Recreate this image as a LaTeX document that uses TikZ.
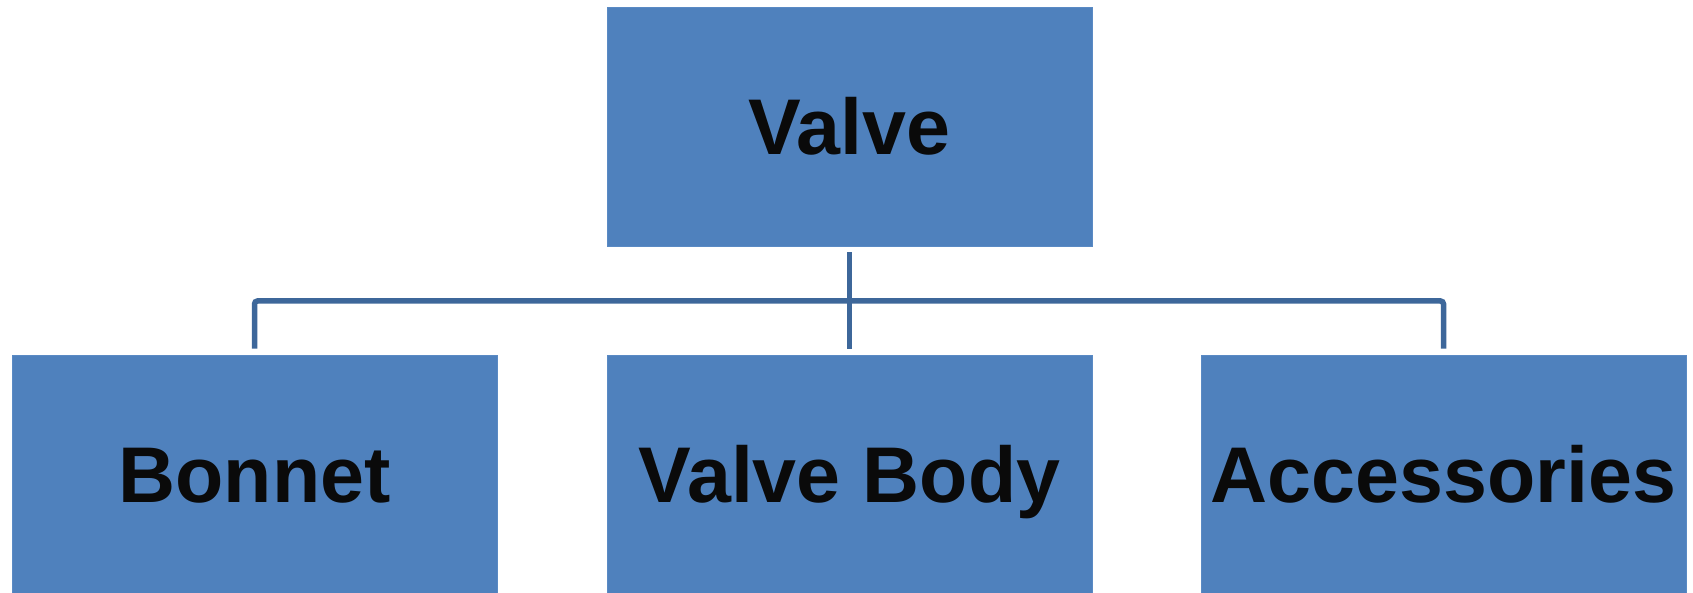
\documentclass[tikz,border=0pt]{standalone}
\usepackage{fontspec}
\setmainfont{Liberation Sans}
\definecolor{boxfill}{HTML}{4F81BD}
\definecolor{boxedge}{HTML}{5A8AC4}
\definecolor{linkblue}{HTML}{3D679A}
\definecolor{labelink}{HTML}{0A0A0A}
\tikzset{
  partbox/.style={rectangle, fill=boxfill, draw=boxedge, line width=0.4pt,
    minimum width=242.5pt, minimum height=119.5pt, inner sep=0pt,
    text height=28.3pt, text depth=0pt,
    font=\fontsize{39.5}{44}\selectfont\bfseries, text=labelink},
  link/.style={draw=linkblue, line width=2.75pt, line cap=butt, rounded corners=1.5pt}
}
\begin{document}
\begin{tikzpicture}[x=0.5pt, y=-0.5pt]
  \useasboundingbox (0,0) rectangle (1693,593);

  % tree nodes
  \node[partbox] (valve) at (849.5,126.5) {Valve};
  \node[partbox] (bonnet) at (254.5,474.5) {Bonnet};
  \node[partbox] (body) at (849.5,474.5) {Valve Body};
  \node[partbox] (acc) at (1443.5,474.5) {Accessories};

  % branch point of the connectors
  \coordinate (fork) at (849.5,301);

  % connectors
  \draw[link] ([yshift=-3pt]valve.south) -- (fork);
  \draw[link] ([yshift=3pt]bonnet.north) |- (fork) -| ([yshift=3pt]acc.north);
  \draw[link] (fork) -- ([yshift=3pt]body.north);
\end{tikzpicture}
\end{document}
